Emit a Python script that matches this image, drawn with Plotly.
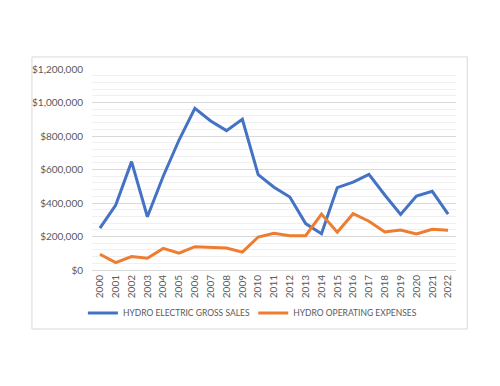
import plotly.graph_objects as go

years = [str(y) for y in range(2000, 2023)]
gross_sales = [250000, 388000, 647000, 318000, 560000, 776000, 965000, 890000, 832000, 900000,
               569000, 494000, 436000, 277000, 217000, 492000, 525000, 571000, 448000, 332000,
               442000, 470000, 334000]
operating_expenses = [94000, 44000, 80000, 70000, 129000, 100000, 139000, 133000, 131000, 107000,
                      197000, 219000, 205000, 205000, 334000, 225000, 336000, 291000, 227000, 239000,
                      215000, 243000, 237000]
series_names = ["HYDRO ELECTRIC GROSS SALES", "HYDRO OPERATING EXPENSES"]
y_ticks = [0, 200000, 400000, 600000, 800000, 1000000, 1200000]
y_tick_labels = ["$0", "$200,000", "$400,000", "$600,000", "$800,000", "$1,000,000", "$1,200,000"]

font_family = "Lato, 'Open Sans', sans-serif"
gray = "#595959"

fig = go.Figure()
fig.add_trace(go.Scatter(x=years, y=gross_sales, mode="lines", name=series_names[0],
                         line=dict(color="#4472C4", width=3), legend="legend"))
fig.add_trace(go.Scatter(x=years, y=operating_expenses, mode="lines", name=series_names[1],
                         line=dict(color="#ED7D31", width=3), legend="legend2"))

legend_common = dict(orientation="h", xanchor="left", y=-0.214, yanchor="middle",
                     font=dict(size=8.5, color=gray), itemwidth=30,
                     bgcolor="rgba(0,0,0,0)")

# page body has an 8px margin, so the figure is drawn 8px smaller and shifted
fig.update_layout(
    width=492, height=378,
    margin=dict(l=84, r=44, t=61, b=116),
    paper_bgcolor="white", plot_bgcolor="white",
    font=dict(family=font_family, size=10, color=gray),
    showlegend=True,
    legend=dict(x=-0.025, **legend_common),
    legend2=dict(x=0.443, **legend_common),
    shapes=[dict(type="rect", xref="paper", yref="paper",
                 x0=-0.165, x1=1.031, y0=-0.2935, y1=1.06,
                 line=dict(color="#d9d9d9", width=1), fillcolor="rgba(0,0,0,0)", layer="below")],
)
fig.update_xaxes(type="category", tickangle=-90, showgrid=False, showline=True,
                 linecolor="#d9d9d9", linewidth=1, ticks="", tickfont=dict(size=10, color=gray),
                 range=[-0.5, len(years) - 0.5])
fig.update_yaxes(range=[0, 1200000], tickvals=y_ticks, ticktext=y_tick_labels,
                 showgrid=True, gridcolor="#d9d9d9", gridwidth=1, zeroline=False,
                 showline=False, ticks="", tickfont=dict(size=10, color=gray),
                 minor=dict(dtick=40000, showgrid=True, gridcolor="#f0f0f0", gridwidth=1),
                 ticklabelstandoff=8)

fig.write_html("out.html")
